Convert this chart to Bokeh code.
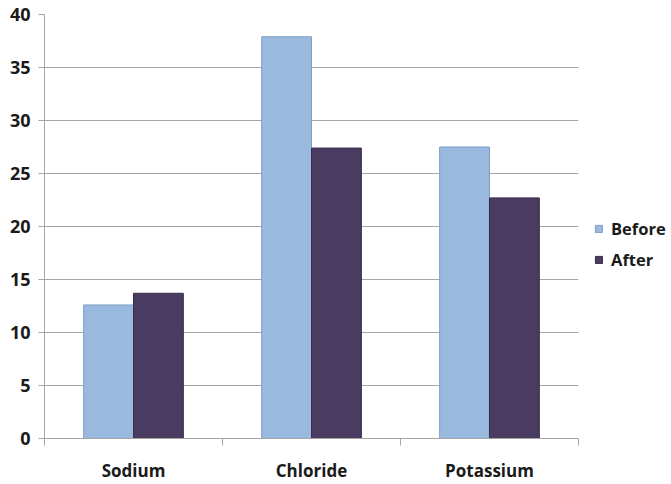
import numpy as np
from bokeh.plotting import figure
from bokeh.models import (Range1d, FixedTicker, Legend, LegendItem, ColumnDataSource)
from bokeh.transform import dodge
from bokeh.embed import file_html
from bokeh.resources import INLINE

categories = ["Sodium", "Chloride", "Potassium"]
before = [12.6, 37.9, 27.5]
after = [13.7, 27.4, 22.7]
series_names = ["Before", "After"]
y_ticks = [0, 5, 10, 15, 20, 25, 30, 35, 40]

n = len(categories)
centers = (np.arange(n) + 0.5).tolist()
bounds = np.arange(n + 1).tolist()

src = ColumnDataSource(dict(x=centers, cat=categories, before=before, after=after))

FONT = "Open Sans"
GRID = "#a6a6a6"

p = figure(x_range=Range1d(0, n), y_range=Range1d(0, 40),
           frame_width=534, frame_height=424,
           min_border_left=44, min_border_top=14, min_border_right=10, min_border_bottom=0,
           output_backend="svg", toolbar_location=None,
           outline_line_color=None, background_fill_color="white", border_fill_color="white")

r1 = p.vbar(x=dodge("x", -0.14), top="before", width=0.28, bottom=0,
            source=src, fill_color="#99B9DE", line_color="#7d9dc4", line_width=1)
r2 = p.vbar(x=dodge("x", 0.14), top="after", width=0.28, bottom=0,
            source=src, fill_color="#4A3B60", line_color="#3a2d4d", line_width=1)

# y axis
yax = p.yaxis[0]
yax.ticker = FixedTicker(ticks=y_ticks)
yax.axis_line_color = GRID
yax.major_tick_line_color = GRID
yax.major_tick_out = 6
yax.major_tick_in = 0
yax.minor_tick_line_color = None
yax.major_label_text_font = FONT
yax.major_label_text_font_style = "bold"
yax.major_label_text_font_size = "18px"
yax.major_label_text_color = "#1a1a1a"
yax.major_label_standoff = 8

p.xgrid.grid_line_color = None
p.ygrid.ticker = FixedTicker(ticks=y_ticks)
p.ygrid.grid_line_color = GRID
p.ygrid.grid_line_width = 1

# x axis: labels at category centres, tick marks at category boundaries
xax = p.xaxis[0]
xax.ticker = FixedTicker(ticks=centers, minor_ticks=bounds)
xax.major_label_overrides = {c: lab for c, lab in zip(centers, categories)}
xax.axis_line_color = GRID
xax.major_tick_line_color = None
xax.major_tick_out = 0
xax.major_tick_in = 0
xax.minor_tick_line_color = GRID
xax.minor_tick_out = 7
xax.minor_tick_in = 0
xax.major_label_standoff = 13
xax.major_label_text_font = FONT
xax.major_label_text_font_style = "bold"
xax.major_label_text_font_size = "17px"
xax.major_label_text_color = "#1a1a1a"

legend = Legend(items=[LegendItem(label=series_names[0], renderers=[r1]),
                       LegendItem(label=series_names[1], renderers=[r2])],
                location=(16, 167), orientation="vertical",
                glyph_width=9, glyph_height=9, label_standoff=8, spacing=8,
                padding=0, margin=0, border_line_color=None, background_fill_alpha=0,
                label_text_font=FONT, label_text_font_style="bold",
                label_text_font_size="16.5px", label_text_color="#1a1a1a")
p.add_layout(legend, "right")

open("out.html", "w").write(file_html(p, INLINE))
